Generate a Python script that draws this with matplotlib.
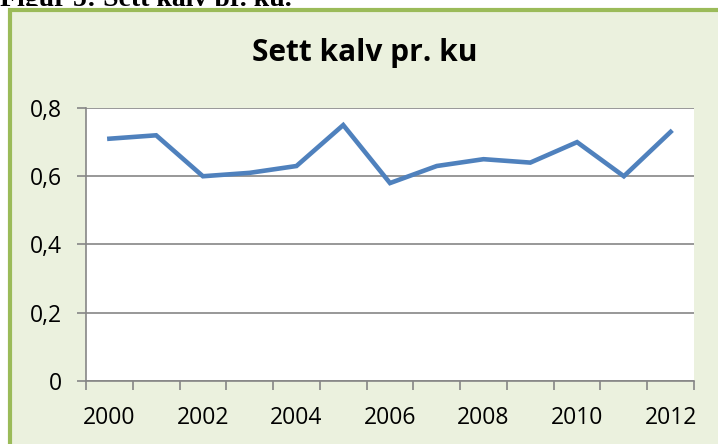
import matplotlib.pyplot as plt
from matplotlib.patches import Rectangle

years = list(range(2000, 2013))
sett_kalv = [0.71, 0.72, 0.60, 0.61, 0.63, 0.75, 0.58, 0.63, 0.65, 0.64, 0.70, 0.60, 0.73]
y_ticks = [0, 0.2, 0.4, 0.6, 0.8]
y_labels = ['0', '0,2', '0,4', '0,6', '0,8']

W, H = 718, 444
fig = plt.figure(figsize=(W / 100, H / 100), dpi=100)
fig.patch.set_facecolor('white')

# caption of the document, mostly cut off by the chart box
fig.text(0.0, 1 - 6 / H, 'Figur 5: Sett kalv pr. ku.', family='Liberation Serif',
         fontweight='bold', fontsize=20, ha='left', va='baseline', zorder=-20)
fig.patches.append(Rectangle((0, 0), 1, 1 - 6.5 / H, transform=fig.transFigure,
                             facecolor='white', edgecolor='none', zorder=-15))

# green chart frame (runs past right/bottom edge of the picture)
fig.patches.append(Rectangle((9.5 / W, -0.1), 1.2, 1 - 10 / H + 0.1,
                             transform=fig.transFigure, facecolor='#EBF1DE',
                             edgecolor='#9BBB59', linewidth=3, zorder=-10))

ax = fig.add_axes([86 / W, 1 - 381 / H, (694 - 86) / W, (381 - 108) / H])
ax.set_facecolor('white')

x = list(range(len(years)))
ax.plot(x, sett_kalv, color='#4F81BD', linewidth=3.3, solid_joinstyle='miter')

ax.set_xlim(-0.5, len(years) - 0.5)
ax.set_ylim(0, 0.8)
ax.set_yticks(y_ticks)
ax.set_yticklabels(y_labels)
ax.set_xticks([i - 0.5 for i in range(len(years) + 1)])
ax.set_xticklabels([])
ax.set_xticks(x[::2], minor=True)
ax.set_xticklabels([str(y) for y in years[::2]], minor=True)

ax.grid(axis='y', color='#868686', linewidth=1.2)
ax.set_axisbelow(True)
for s in ['top', 'right']:
    ax.spines[s].set_visible(False)
for s in ['left', 'bottom']:
    ax.spines[s].set_color('#868686')
    ax.spines[s].set_linewidth(1.2)

ax.tick_params(axis='y', which='major', length=6.5, width=1.2, color='#868686',
               pad=11, labelsize=16.5)
ax.tick_params(axis='x', which='major', length=6.5, width=1.2, color='#868686')
ax.tick_params(axis='x', which='minor', length=0, pad=18, labelsize=16.5)
for lab in ax.get_yticklabels() + ax.get_xticklabels(minor=True):
    lab.set_family('Open Sans')

fig.text(365 / W, 1 - 53 / H, 'Sett kalv pr. ku', family='Open Sans',
         fontweight='bold', fontsize=21.5, ha='center', va='center')

fig.savefig('out.png', dpi=100)
